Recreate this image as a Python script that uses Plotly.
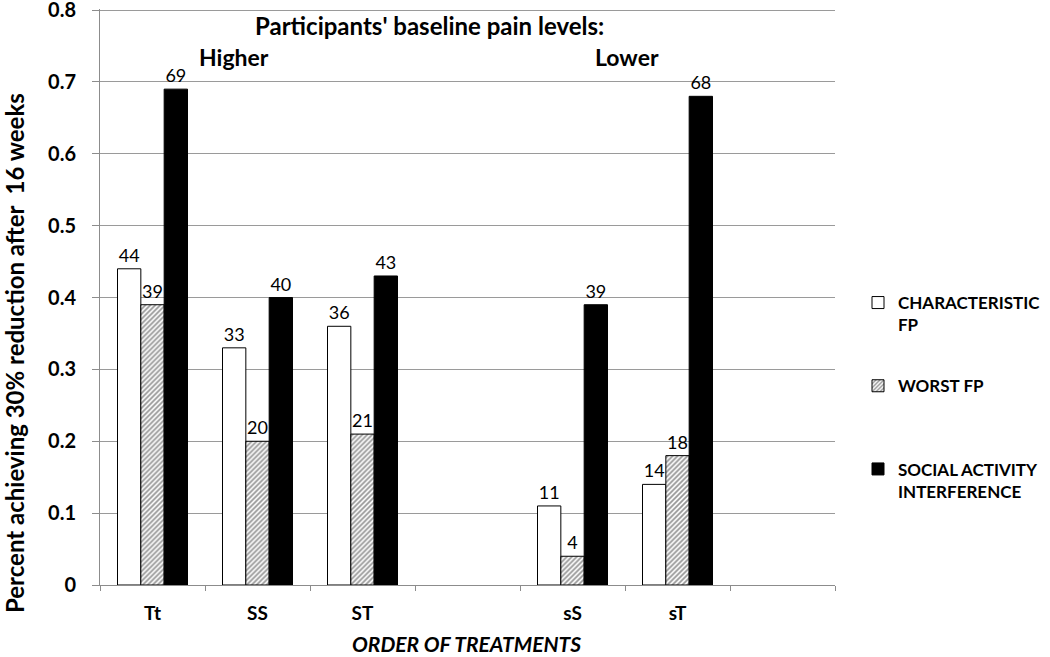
import plotly.graph_objects as go

# ---- data ----
categories = ["Tt", "SS", "ST", "", "sS", "sT", ""]
characteristic_fp = [0.44, 0.33, 0.36, None, 0.11, 0.14, None]
worst_fp = [0.39, 0.20, 0.21, None, 0.04, 0.18, None]
social_activity = [0.69, 0.40, 0.43, None, 0.39, 0.68, None]
series_names = ["CHARACTERISTIC<br>FP", "WORST FP<br> ", "SOCIAL ACTIVITY<br>INTERFERENCE"]
y_tick_values = [0, 0.1, 0.2, 0.3, 0.4, 0.5, 0.6, 0.7, 0.8]
y_tick_labels = ["0", "0.1", "0.2", "0.3", "0.4", "0.5", "0.6", "0.7", "0.8"]

FONT = "Lato"
slots = list(range(len(categories)))
label_slots = [i for i, c in enumerate(categories) if c]
label_text = [c for c in categories if c]

# plot area in pixels (for placing free text)
L, R, T, B = 100, 835, 9, 585
W, H = R - L, B - T


def px(xp):
    return (xp - L) / W


def py(yp):
    return (B - yp) / H


def labels(vals):
    return ["" if v is None else str(round(v * 100)) for v in vals]


fig = go.Figure()
styles = [
    dict(color="white", line=dict(color="black", width=1)),
    dict(color="white", line=dict(color="black", width=1),
         pattern=dict(shape="/", fgcolor="#2e2e2e", bgcolor="white", size=3.5, solidity=0.5)),
    dict(color="black", line=dict(color="black", width=1)),
]
for name, vals, mk in zip(series_names, [characteristic_fp, worst_fp, social_activity], styles):
    fig.add_trace(go.Bar(
        x=slots, y=vals, name=name, marker=mk,
        text=labels(vals), textposition="outside", cliponaxis=False,
        textfont=dict(family=FONT, size=18, color="black"),
        legendgroup=name,
    ))

fig.update_layout(
    width=1050, height=657,
    margin=dict(l=L, r=1050 - R, t=T, b=657 - B, autoexpand=False),
    paper_bgcolor="white", plot_bgcolor="white",
    barmode="group", bargap=1/3, bargroupgap=0,
    font=dict(family=FONT, color="black"),
    showlegend=True,
    legend=dict(x=px(858), xanchor="left", y=py(285), yanchor="top",
                font=dict(family=FONT, size=17, color="black", weight="bold"),
                valign="top", tracegroupgap=36, traceorder="grouped",
                itemwidth=30, bgcolor="rgba(0,0,0,0)"),
    xaxis=dict(
        range=[-0.5, len(categories) - 0.5], automargin=False,
        tickvals=label_slots, ticktext=[f"<b>{t}</b>" for t in label_text],
        tickfont=dict(family=FONT, size=19, color="black"),
        showgrid=False, showline=True, linecolor="#8c8c8c", linewidth=1,
        ticks="", zeroline=False, ticklabelstandoff=11,
        minor=dict(tick0=-0.5, dtick=1, ticks="outside", ticklen=5, tickcolor="#8c8c8c"),
    ),
    yaxis=dict(
        range=[0, 0.8015], tickvals=y_tick_values, automargin=False,
        ticktext=[f"<b>{t}</b>" for t in y_tick_labels],
        tickfont=dict(family=FONT, size=20, color="black"),
        ticklabeloverflow="allow",
        showgrid=True, gridcolor="#9a9a9a", gridwidth=1,
        showline=True, linecolor="#8c8c8c", linewidth=1,
        ticks="outside", ticklen=7, tickcolor="#8c8c8c",
        zeroline=False, ticklabelstandoff=12,
    ),
    annotations=[
        dict(text="<b>Percent achieving 30% reduction after  16 weeks</b>",
             textangle=-90, xref="paper", yref="paper", x=px(14), y=py(353),
             xanchor="center", yanchor="middle",
             showarrow=False, font=dict(family=FONT, size=24, color="black")),
        dict(text="<b><i>ORDER OF TREATMENTS</i></b>",
             xref="paper", yref="paper", x=px(466), y=py(643),
             xanchor="center", yanchor="middle",
             showarrow=False, font=dict(family=FONT, size=21, color="black")),
        dict(text="<b>Participants' baseline pain levels:</b>",
             xref="paper", yref="paper", x=px(429), y=py(25),
             xanchor="center", yanchor="middle",
             showarrow=False, font=dict(family=FONT, size=24, color="black")),
        dict(text="<b>Higher</b>",
             xref="paper", yref="paper", x=px(234), y=py(57),
             xanchor="center", yanchor="middle",
             showarrow=False, font=dict(family=FONT, size=23, color="black")),
        dict(text="<b>Lower</b>",
             xref="paper", yref="paper", x=px(627), y=py(57),
             xanchor="center", yanchor="middle",
             showarrow=False, font=dict(family=FONT, size=23, color="black")),
    ],
)

fig.write_html("out.html", config={"displayModeBar": False},
               post_script="document.body.style.margin='0';document.body.style.overflow='hidden';")
